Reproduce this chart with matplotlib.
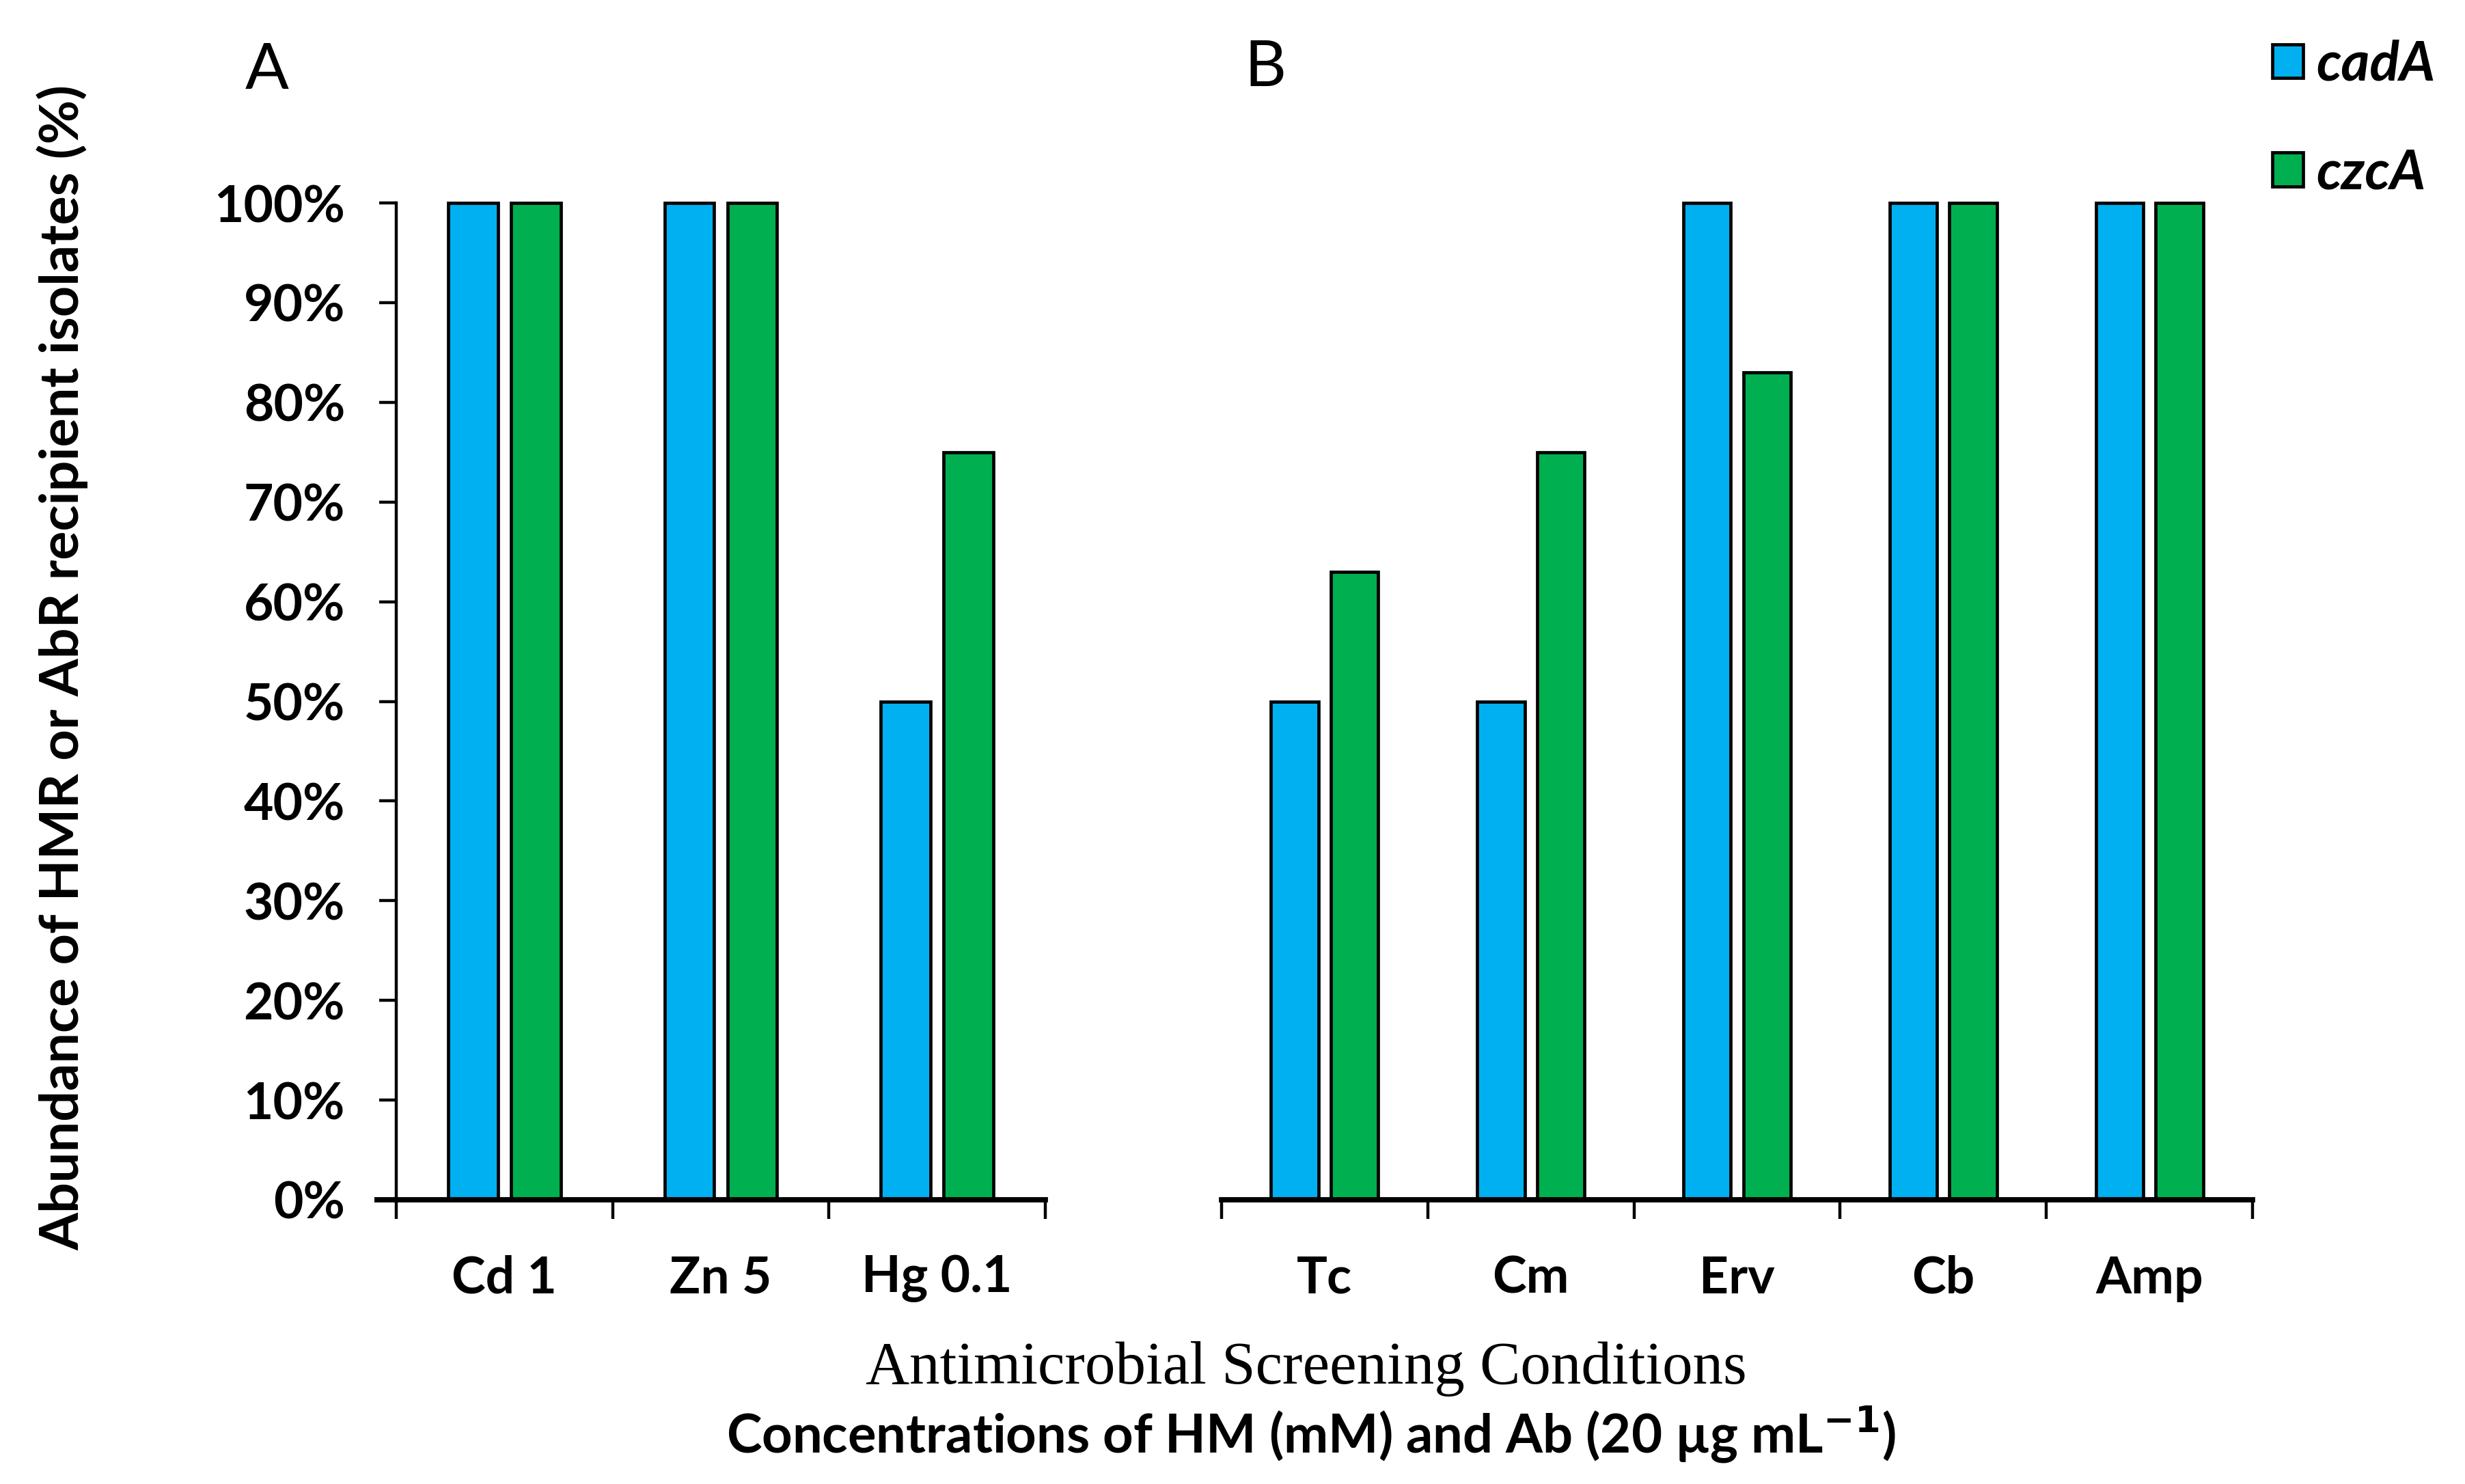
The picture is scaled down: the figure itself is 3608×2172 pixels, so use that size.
import matplotlib
matplotlib.use("Agg")
import matplotlib.pyplot as plt
import numpy as np

# ---- data ----
hm_categories = ["Cd 1", "Zn 5", "Hg 0.1"]
hm_cadA = [100, 100, 50]
hm_czcA = [100, 100, 75]

ab_categories = ["Tc", "Cm", "Erv", "Cb", "Amp"]
ab_cadA = [50, 50, 100, 100, 100]
ab_czcA = [63, 75, 83, 100, 100]

series_names = ["cadA", "czcA"]
y_ticks = [0, 10, 20, 30, 40, 50, 60, 70, 80, 90, 100]
y_tick_labels = [f"{v}%" for v in y_ticks]

BLUE = "#00B0F0"
GREEN = "#00B050"

plt.rcParams['font.family'] = ['Lato', 'DejaVu Sans']

W, H = 3608, 2172
DPI = 200
fig = plt.figure(figsize=(W / DPI, H / DPI), dpi=DPI)

def fx(px):
    return px / W

def fy(py):
    return 1 - py / H

y0, y100 = 1756, 297
axA = fig.add_axes([fx(580), fy(y0), fx(1530) - fx(580), fy(y100) - fy(y0)])
axB = fig.add_axes([fx(1788), fy(y0), fx(3297) - fx(1788), fy(y100) - fy(y0)])

bw = 0.23
off = 0.145
tick_fs = 27

def draw(ax, cats, a, c, show_y):
    x = np.arange(len(cats))
    ax.bar(x - off, a, bw, color=BLUE, edgecolor="black", linewidth=1.7,
           clip_on=False, zorder=3, label=series_names[0])
    ax.bar(x + off, c, bw, color=GREEN, edgecolor="black", linewidth=1.7,
           clip_on=False, zorder=3, label=series_names[1])
    ax.set_xlim(-0.5, len(cats) - 0.5)
    ax.set_ylim(0, 100)
    for s in ["top", "right"]:
        ax.spines[s].set_visible(False)
    ax.spines["bottom"].set_linewidth(2.8)
    ax.spines["bottom"].set_zorder(4)
    ax.set_xticks(np.arange(len(cats) + 1) - 0.5)
    ax.set_xticklabels([])
    ax.tick_params(axis="x", which="major", length=10, width=1.6, direction="out")
    ax.set_xticks(x, minor=True)
    ax.set_xticklabels(cats, minor=True, fontsize=tick_fs, fontweight="bold")
    ax.tick_params(axis="x", which="minor", length=0, pad=29)
    if show_y:
        ax.spines["left"].set_linewidth(1.6)
        ax.set_yticks(y_ticks)
        ax.set_yticklabels(y_tick_labels, fontsize=tick_fs, fontweight="bold")
        ax.tick_params(axis="y", length=9, width=1.6, pad=18)
        ax.plot([-0.5 - 0.1, -0.5], [0, 0], color="black", lw=2.8,
                clip_on=False, solid_capstyle="butt", zorder=4)
    else:
        ax.spines["left"].set_visible(False)
        ax.set_yticks([])
    ax.set_facecolor("none")

draw(axA, hm_categories, hm_cadA, hm_czcA, True)
draw(axB, ab_categories, ab_cadA, ab_czcA, False)

fig.text(fx(391), fy(104), "A", fontsize=34, ha="center", va="center")
fig.text(fx(1852), fy(100), "B", fontsize=34, ha="center", va="center")

fig.text(fx(92), fy(977), "Abundance of HMR or AbR recipient isolates (%)",
         rotation=90, fontsize=28.5, fontweight="bold", ha="center", va="center")

fig.text(fx(1912), fy(2003), "Antimicrobial Screening Conditions",
         fontsize=32, family=["Liberation Serif", "DejaVu Serif"], ha="center", va="center")
fig.text(fx(1919), fy(2099), "Concentrations of HM (mM) and Ab (20 \u00b5g mL$^{\\mathbf{-1}}$)",
         fontsize=28, fontweight="bold", ha="center", va="center")

handles, labels = axA.get_legend_handles_labels()
leg = fig.legend(handles, labels, loc="upper right", bbox_to_anchor=(fx(3565), fy(58)),
                 borderpad=0, borderaxespad=0,
                 frameon=False, handlelength=0.55, handleheight=0.57, handletextpad=0.25,
                 labelspacing=1.05, prop={"size": 29, "weight": "bold", "style": "italic"})

fig.savefig("out.png", dpi=DPI, facecolor="white")
